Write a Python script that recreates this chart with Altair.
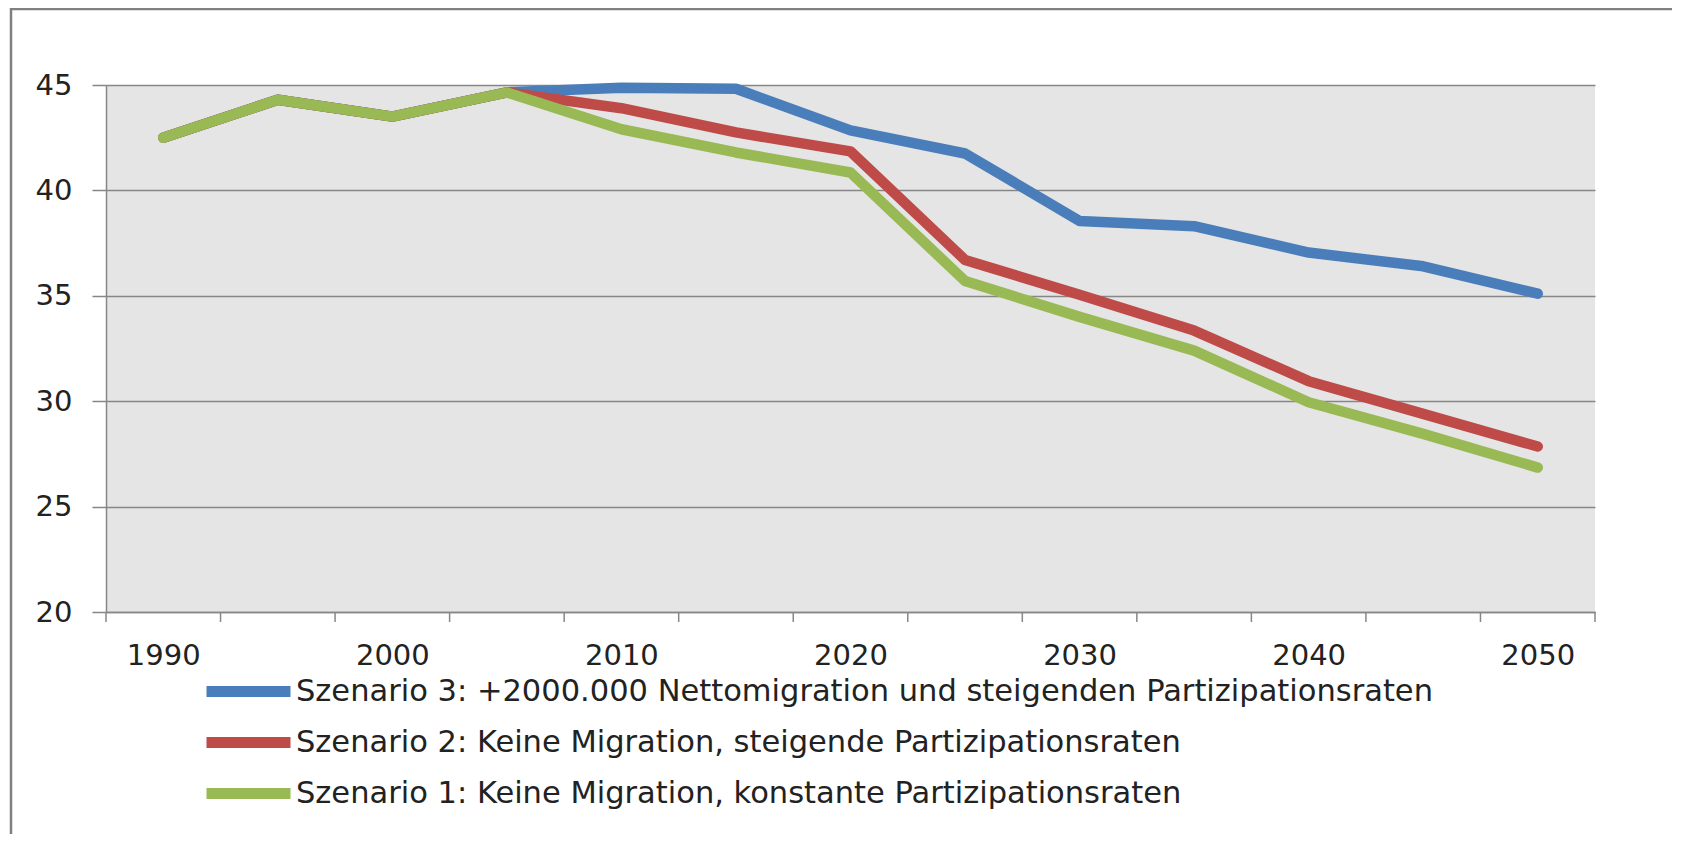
import altair as alt
import pandas as pd

years = [1990, 1995, 2000, 2005, 2010, 2015, 2020, 2025, 2030, 2035, 2040, 2045, 2050]

s3_name = "Szenario 3: +2000.000 Nettomigration und steigenden Partizipationsraten"
s2_name = "Szenario 2: Keine Migration, steigende Partizipationsraten"
s1_name = "Szenario 1: Keine Migration, konstante Partizipationsraten"

s3_values = [42.5, 44.3, 43.5, 44.65, 44.87, 44.82, 42.85, 41.75, 38.55, 38.3, 37.05, 36.4, 35.1]
s2_values = [42.5, 44.3, 43.5, 44.65, 43.9, 42.75, 41.85, 36.7, 35.05, 33.35, 30.95, 29.4, 27.85]
s1_values = [42.5, 44.3, 43.5, 44.65, 42.9, 41.8, 40.85, 35.7, 34.0, 32.4, 29.95, 28.45, 26.85]

series_names = [s3_name, s2_name, s1_name]
series_values = [s3_values, s2_values, s1_values]
series_colors = ["#4a7ebb", "#be4b48", "#98b954"]

y_ticks = [20, 25, 30, 35, 40, 45]
x_labels = [1990, 2000, 2010, 2020, 2030, 2040, 2050]
x_boundaries = [1987.5 + 5 * i for i in range(14)]

rows = []
for name, vals in zip(series_names, series_values):
    for yr, v in zip(years, vals):
        rows.append({"Jahr": yr, "Wert": v, "Szenario": name})
df = pd.DataFrame(rows)
df_ticks = pd.DataFrame({"Jahr": x_boundaries})

W, H = 1489, 527
PAD_L, PAD_T, PAD_R, PAD_B = 98, 77, 77, 222
FONT = "DejaVu Sans"
TXT = "#222222"
GRID = "#878787"

x_scale = alt.Scale(domain=[1987.5, 2052.5], nice=False, zero=False)

lines = alt.Chart(df).mark_line(
    strokeWidth=10.5, strokeJoin="round", strokeCap="round"
).encode(
    x=alt.X(
        "Jahr:Q",
        scale=x_scale,
        axis=alt.Axis(
            values=x_labels,
            format="d",
            labelFlush=False,
            labelOverlap=False,
            labelBound=False,
            grid=False,
            ticks=False,
            domainColor=GRID,
            domainWidth=1.5,
            labelFont=FONT,
            labelFontSize=29,
            labelColor=TXT,
            labelPadding=29,
            title=None,
        ),
    ),
    y=alt.Y(
        "Wert:Q",
        scale=alt.Scale(domain=[20, 45], nice=False, zero=False),
        axis=alt.Axis(
            values=y_ticks,
            grid=True,
            gridColor=GRID,
            gridWidth=1.5,
            tickSize=14,
            tickColor=GRID,
            tickWidth=1.5,
            domainColor=GRID,
            domainWidth=1.5,
            labelFont=FONT,
            labelFontSize=29,
            labelColor=TXT,
            labelPadding=20,
            title=None,
        ),
    ),
    color=alt.Color(
        "Szenario:N",
        scale=alt.Scale(domain=series_names, range=series_colors),
        legend=alt.Legend(
            orient="none",
            legendX=86,
            legendY=581,
            title=None,
            symbolType="stroke",
            symbolSize=7056,
            symbolStrokeWidth=11,
            symbolOffset=9,
            labelFont=FONT,
            labelFontSize=30.5,
            labelColor=TXT,
            labelLimit=2000,
            labelOffset=0,
            clipHeight=51,
            rowPadding=0,
            padding=0,
            direction="vertical",
        ),
    ),
    order=alt.Order("Jahr:Q"),
)

ticks = alt.Chart(df_ticks).mark_rule(color=GRID, strokeWidth=1.5).encode(
    x=alt.X("Jahr:Q", scale=x_scale),
    y=alt.value(H),
    y2=alt.value(H + 10),
)

frame = alt.Data(values=[{"k": 1}])
left_line = alt.Chart(frame).mark_rule(color="#808080", strokeWidth=2.5).encode(
    x=alt.value(-95), y=alt.value(-77), y2=alt.value(H + PAD_B)
)
top_line = alt.Chart(frame).mark_rule(color="#808080", strokeWidth=2.5).encode(
    x=alt.value(-96), x2=alt.value(W + PAD_R), y=alt.value(-76)
)

chart = alt.layer(left_line, top_line, ticks, lines).properties(
    width=W,
    height=H,
    padding={"left": PAD_L, "top": PAD_T, "right": PAD_R, "bottom": PAD_B},
    autosize=alt.AutoSizeParams(type="none"),
    background="white",
).configure_view(
    fill="#e5e5e5", stroke=None
)

chart.save("out.html", embed_options={"renderer": "svg", "actions": False})
